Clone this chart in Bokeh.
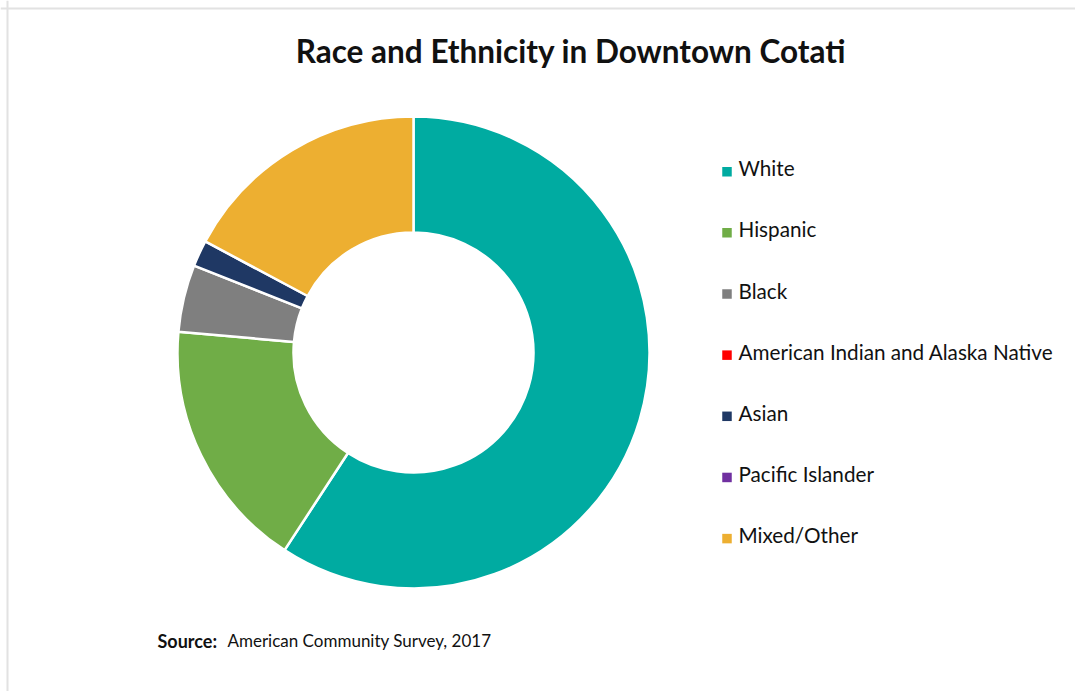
import math
from bokeh.plotting import figure
from bokeh.models import Range1d, ColumnDataSource, Label, Span
from bokeh.core.properties import value
from bokeh.embed import file_html
from bokeh.resources import INLINE

categories = ["White", "Hispanic", "Black", "American Indian and Alaska Native",
              "Asian", "Pacific Islander", "Mixed/Other"]
shares = [59.2, 17.2, 4.6, 0.0, 1.8, 0.0, 17.2]
colors = ["#00ABA1", "#70AD47", "#7F7F7F", "#FF0000", "#1F3864", "#7030A0", "#EDAF31"]
title_text = "Race and Ethnicity in Downtown Cotati"
source_bold = "Source:"
source_text = "American Community Survey, 2017"

W, H = 1075, 691
TXT = 8  # text baseline correction observed in rendering

p = figure(width=W, height=H, x_range=Range1d(0, W), y_range=Range1d(0, H),
           output_backend="svg", toolbar_location=None, min_border=0)
p.axis.visible = False
p.grid.visible = False
p.outline_line_color = None
p.background_fill_color = "white"
p.border_fill_color = "white"

# donut (zero-share slices are not drawn, only listed in the legend)
total = sum(shares)
ws = dict(cat=[], color=[], start=[], end=[])
cum = 0.0
for c, s, col in zip(categories, shares, colors):
    a0 = math.pi / 2 - cum / total * 2 * math.pi
    cum += s
    a1 = math.pi / 2 - cum / total * 2 * math.pi
    if s > 0:
        ws["cat"].append(c)
        ws["color"].append(col)
        ws["start"].append(a0)
        ws["end"].append(a1)
src = ColumnDataSource(ws)
cx, cy = 413, H - 352
p.annular_wedge(x=cx, y=cy, inner_radius=120, outer_radius=236,
                start_angle="start", end_angle="end", direction="clock",
                fill_color="color", line_color="white", line_width=2.5, source=src)

# legend (manual)
lx, ly0, pitch = 726.5, H - 171.2, 61.15
n = len(categories)
leg_y = [ly0 - i * pitch for i in range(n)]
lsrc = ColumnDataSource(dict(x=[lx] * n, y=leg_y,
                             ty=[y - 4.5 + TXT for y in leg_y],
                             tx=[738] * n,
                             cat=categories, color=colors))
p.rect(x="x", y="y", width=9.5, height=9.5, width_units="screen", height_units="screen",
       fill_color="color", line_color=None, source=lsrc)
p.text(x="tx", y="ty", text="cat", source=lsrc, text_font=value("Lato"),
       text_font_size="20.7px", text_color="#111111", text_baseline="alphabetic")

# title
p.add_layout(Label(x=570.5, y=H - 58 + TXT, text=title_text, text_font="Lato",
                   text_font_style="bold", text_font_size="31.5px", text_color="#111111",
                   text_align="center", text_baseline="alphabetic"))
# source
p.add_layout(Label(x=157, y=H - 648 + TXT, text=source_bold, text_font="Lato",
                   text_font_style="bold", text_font_size="18px", text_color="#111111",
                   text_baseline="alphabetic"))
p.add_layout(Label(x=227, y=H - 648 + TXT, text=source_text, text_font="Lato",
                   text_font_size="17px", text_color="#111111",
                   text_baseline="alphabetic"))

# light frame on left and top
p.add_layout(Span(location=7, dimension="height", line_color="#E2E2E2", line_width=2))
p.add_layout(Span(location=H - 8, dimension="width", line_color="#E2E2E2", line_width=2))

open("out.html", "w").write(file_html(p, INLINE))
